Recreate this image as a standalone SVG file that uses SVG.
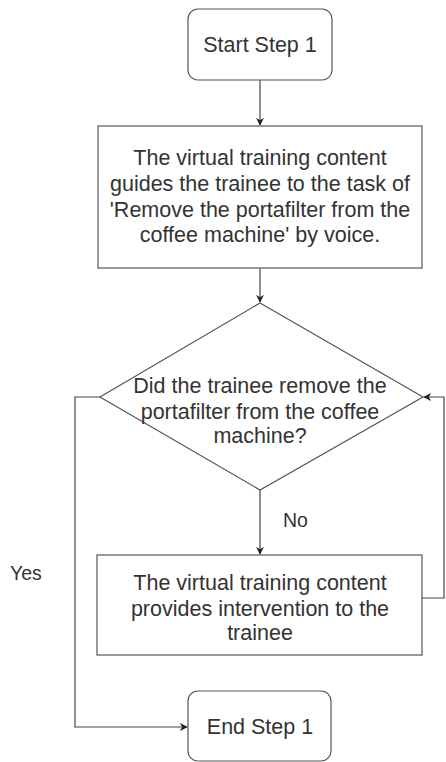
<svg xmlns="http://www.w3.org/2000/svg" width="446" height="762" viewBox="0 0 446 762">
  <style>
    .shape { fill: #ffffff; stroke: #555555; stroke-width: 1.2; }
    .label { font-family: "Liberation Sans", Arial, sans-serif; font-size: 21.5px; fill: #333333; text-anchor: middle; }
    .edge-label { font-family: "Liberation Sans", Arial, sans-serif; font-size: 19.5px; fill: #333333; }
    .edge { fill: none; stroke: #444444; stroke-width: 1.2; }
  </style>
  <defs>
    <marker id="arrow" viewBox="0 0 10 10" refX="9" refY="5" markerWidth="8" markerHeight="8" markerUnits="userSpaceOnUse" orient="auto">
      <path d="M0,0 L10,5 L0,10 L3,5 Z" fill="#222222"/>
    </marker>
  </defs>
  <rect width="446" height="762" fill="#ffffff"/>

  <g id="connectors">
    <path class="edge" d="M260,80 L260,125" marker-end="url(#arrow)"/>
    <path class="edge" d="M260,268 L260,302" marker-end="url(#arrow)"/>
    <path class="edge" d="M260,490 L260,554" marker-end="url(#arrow)"/>
    <path class="edge" d="M422,598 L444,598 L444,397 L424,397" marker-end="url(#arrow)"/>
    <path class="edge" d="M100,397 L75,397 L75,727 L187,727" marker-end="url(#arrow)"/>
    <text class="edge-label" x="283" y="527">No</text>
    <text class="edge-label" x="10" y="580">Yes</text>
  </g>

  <g id="start">
    <rect class="shape" x="188" y="9" width="144" height="71" rx="10" ry="10"/>
    <text class="label" x="260" y="52">Start Step 1</text>
  </g>

  <g id="guide">
    <rect class="shape" x="98" y="126" width="324" height="142"/>
    <text class="label" x="260" y="165">The virtual training content</text>
    <text class="label" x="260" y="191">guides the trainee to the task of</text>
    <text class="label" x="260" y="217">'Remove the portafilter from the</text>
    <text class="label" x="260" y="242">coffee machine' by voice.</text>
  </g>

  <g id="decision">
    <polygon class="shape" points="260,303 423,397 260,490 100,397"/>
    <text class="label" x="260" y="393">Did the trainee remove the</text>
    <text class="label" x="260" y="419">portafilter from the coffee</text>
    <text class="label" x="260" y="443">machine?</text>
  </g>

  <g id="intervention">
    <rect class="shape" x="97" y="555" width="325" height="100"/>
    <text class="label" x="260" y="590">The virtual training content</text>
    <text class="label" x="260" y="616">provides intervention to the</text>
    <text class="label" x="260" y="640">trainee</text>
  </g>

  <g id="end">
    <rect class="shape" x="188" y="691" width="143" height="70" rx="10" ry="10"/>
    <text class="label" x="260" y="734">End Step 1</text>
  </g>
</svg>
